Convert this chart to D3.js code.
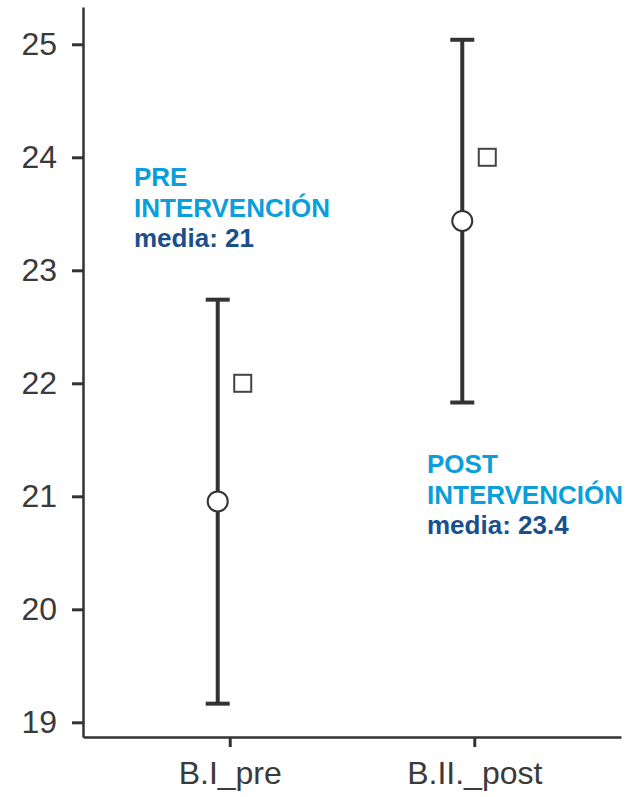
<!DOCTYPE html>
<html><head><meta charset="utf-8">
<script src="https://cdn.jsdelivr.net/npm/d3@7"></script>
<style>
html,body{margin:0;padding:0;background:#fff;}
svg{display:block;font-family:"Liberation Sans",Arial,Helvetica,sans-serif;}
</style></head>
<body><svg id="c" width="629" height="797"></svg>
<script>
const categories = ["B.I_pre", "B.II._post"];
const means = [20.955, 23.437];
const lower = [19.165, 21.83];
const upper = [22.74, 25.04];
const squares = [22.0, 24.0];
const yTicks = [19, 20, 21, 22, 23, 24, 25];
const notes = [
  {lines: ["PRE", "INTERVENCIÓN"], media: "media: 21"},
  {lines: ["POST", "INTERVENCIÓN"], media: "media: 23.4"}
];

const svg = d3.select("#c");
const x = d3.scalePoint().domain(categories).range([83, 621]).padding(0.6);
const y = d3.scaleLinear().domain([18.87, 25.33]).range([737, 7]);
const ink = "#333333";

// axes
const yAxis = svg.append("g").attr("transform", "translate(83,0)")
  .call(d3.axisLeft(y).tickValues(yTicks).tickFormat(d3.format("d"))
    .tickSize(11).tickPadding(15).tickSizeOuter(0));
yAxis.select(".domain").attr("stroke", ink).attr("stroke-width", 2.5);
yAxis.selectAll(".tick line").attr("stroke", ink).attr("stroke-width", 3);
yAxis.selectAll(".tick text").attr("fill", "#3a3a3a").style("font-size", "32px")
  .style("font-family", "Liberation Sans, Arial, sans-serif");

const xAxis = svg.append("g").attr("transform", "translate(0,737)")
  .call(d3.axisBottom(x).tickSize(10).tickPadding(14).tickSizeOuter(0));
xAxis.select(".domain").attr("stroke", ink).attr("stroke-width", 2.5);
xAxis.selectAll(".tick line").attr("stroke", ink).attr("stroke-width", 3);
xAxis.selectAll(".tick text").attr("fill", "#3a3a3a").style("font-size", "32px")
  .attr("dy", "0.72em")
  .style("font-family", "Liberation Sans, Arial, sans-serif");

const dodgeL = -12, dodgeR = 13;
const data = categories.map((c, i) => ({c, m: means[i], lo: lower[i], hi: upper[i], sq: squares[i]}));
const g = svg.append("g");
const capW = 12;
g.selectAll("line.v").data(data).join("line")
  .attr("x1", d => x(d.c) + dodgeL).attr("x2", d => x(d.c) + dodgeL)
  .attr("y1", d => y(d.lo)).attr("y2", d => y(d.hi))
  .attr("stroke", ink).attr("stroke-width", 4);
g.selectAll("line.t").data(data).join("line")
  .attr("x1", d => x(d.c) + dodgeL - capW).attr("x2", d => x(d.c) + dodgeL + capW)
  .attr("y1", d => y(d.hi)).attr("y2", d => y(d.hi))
  .attr("stroke", ink).attr("stroke-width", 4);
g.selectAll("line.b").data(data).join("line")
  .attr("x1", d => x(d.c) + dodgeL - capW).attr("x2", d => x(d.c) + dodgeL + capW)
  .attr("y1", d => y(d.lo)).attr("y2", d => y(d.lo))
  .attr("stroke", ink).attr("stroke-width", 4);
g.selectAll("circle").data(data).join("circle")
  .attr("cx", d => x(d.c) + dodgeL).attr("cy", d => y(d.m)).attr("r", 10)
  .attr("fill", "#fff").attr("stroke", ink).attr("stroke-width", 2);
g.selectAll("rect").data(data).join("rect")
  .attr("x", d => x(d.c) + dodgeR - 8.5).attr("y", d => y(d.sq) - 8.5)
  .attr("width", 17).attr("height", 17)
  .attr("fill", "#fff").attr("stroke", "#444").attr("stroke-width", 2);

// annotations
const notePos = [{x: 134, y: 186}, {x: 427, y: 473}];
notes.forEach((n, i) => {
  const t = svg.append("text").attr("x", notePos[i].x).attr("y", notePos[i].y)
    .style("font-size", "26px").style("font-weight", "bold")
    .style("font-family", "Liberation Sans, Arial, sans-serif");
  n.lines.forEach((l, j) => {
    t.append("tspan").attr("x", notePos[i].x).attr("dy", j === 0 ? 0 : 31)
      .attr("fill", "#0a9fda").text(l);
  });
  t.append("tspan").attr("x", notePos[i].x).attr("dy", 30)
    .attr("fill", "#1b4f8c").text(n.media);
});
</script></body></html>
